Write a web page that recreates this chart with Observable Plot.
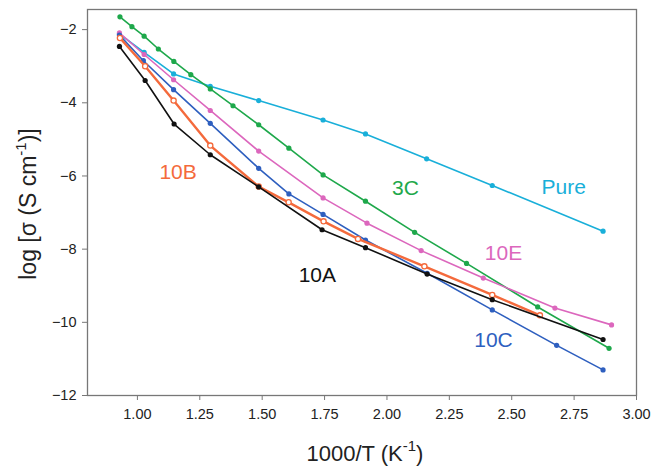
<!DOCTYPE html>
<html><head><meta charset="utf-8">
<script src="https://cdn.jsdelivr.net/npm/d3@7"></script>
<script src="https://cdn.jsdelivr.net/npm/@observablehq/plot@0.6"></script>
<style>
body{margin:0;background:#fff;}
#chart svg{font-family:"Liberation Sans",Arial,Helvetica,sans-serif;overflow:visible;}
</style>
</head><body><div id="chart"></div>
<script>
// Series: 1000/T (x) and log sigma (y)
const seriesNames = ["Pure","3C","10E","10C","10B","10A"];
const seriesColors = ["#19afd9","#1ea84b","#dc67bd","#2e5fbf","#f46a3c","#111111"];

const pureX = [0.928,1.027,1.145,1.292,1.486,1.744,1.914,2.159,2.422,2.866];
const pureY = [-2.12,-2.62,-3.21,-3.55,-3.94,-4.47,-4.85,-5.53,-6.26,-7.51];

const c3X = [0.93,0.978,1.027,1.084,1.146,1.214,1.292,1.383,1.486,1.607,1.744,1.914,2.111,2.319,2.604,2.890];
const c3Y = [-1.65,-1.92,-2.18,-2.53,-2.87,-3.23,-3.62,-4.08,-4.60,-5.24,-5.97,-6.69,-7.54,-8.39,-9.58,-10.71];

const e10X = [0.928,1.027,1.145,1.292,1.486,1.744,1.920,2.137,2.386,2.673,2.900];
const e10Y = [-2.09,-2.68,-3.37,-4.21,-5.32,-6.60,-7.29,-8.04,-8.79,-9.61,-10.07];

const c10X = [0.928,1.024,1.145,1.292,1.486,1.607,1.744,1.914,2.161,2.422,2.680,2.866];
const c10Y = [-2.15,-2.85,-3.64,-4.56,-5.79,-6.49,-7.05,-7.75,-8.66,-9.66,-10.63,-11.30];

const b10X = [0.93,1.031,1.145,1.292,1.486,1.606,1.746,1.884,2.150,2.422,2.613];
const b10Y = [-2.23,-3.00,-3.94,-5.17,-6.29,-6.72,-7.24,-7.72,-8.47,-9.25,-9.81];

const a10X = [0.928,1.031,1.147,1.292,1.486,1.740,1.914,2.161,2.422,2.866];
const a10Y = [-2.46,-3.39,-4.58,-5.42,-6.30,-7.47,-7.96,-8.68,-9.38,-10.47];

// Label positions (data coordinates)
const labelText = ["Pure","3C","10E","10C","10B","10A"];
const labelX = [2.708,2.074,2.467,2.427,1.163,1.721];
const labelY = [-6.32,-6.34,-8.12,-10.50,-5.91,-8.72];

const xTicks = [1.00,1.25,1.50,1.75,2.00,2.25,2.50,2.75,3.00];
const yTicks = [-12,-10,-8,-6,-4,-2];

const allX = [pureX,c3X,e10X,c10X,b10X,a10X];
const allY = [pureY,c3Y,e10Y,c10Y,b10Y,a10Y];
const rows = [];
seriesNames.forEach((s,i)=>allX[i].forEach((x,j)=>rows.push({series:s,x,y:allY[i][j]})));
const labels = labelText.map((t,i)=>({series:t,x:labelX[i],y:labelY[i]}));

const color = s => seriesColors[seriesNames.indexOf(s)];

const marks = [];
seriesNames.forEach((s)=>{
  const d = rows.filter(r=>r.series===s);
  const c = color(s);
  marks.push(Plot.line(d,{x:"x",y:"y",stroke:c,strokeWidth: s==="10B"?2.4:1.6}));
  if (s==="10B") marks.push(Plot.dot(d,{x:"x",y:"y",r:2.6,fill:"white",stroke:c,strokeWidth:1.3}));
  else marks.push(Plot.dot(d,{x:"x",y:"y",r:2.6,fill:c,stroke:"none"}));
});

const chart = Plot.plot({
  width:651, height:466,
  marginLeft:87, marginRight:15, marginTop:9, marginBottom:71,
  style:{background:"#fff", color:"#222"},
  x:{domain:[0.8,3.0]},
  y:{domain:[-12,-1.45]},
  marks:[
    ...marks,
    Plot.text(labels,{x:"x",y:"y",text:"series",fill:d=>color(d.series),fontSize:21,textAnchor:"middle"}),
    Plot.frame({stroke:"#777",strokeWidth:1.3}),
    Plot.axisX({ticks:xTicks,tickFormat:d=>d.toFixed(2),tickSize:5,tickPadding:8,fontSize:14.5,stroke:"#777",label:null,color:"#222"}),
    Plot.axisY({ticks:yTicks,tickSize:5,tickPadding:6,fontSize:14.5,stroke:"#777",label:null,color:"#222"})
  ]
});
document.getElementById("chart").appendChild(chart);

const svg = d3.select(chart);
// x title
const xt = svg.append("text").attr("x",365).attr("y",461).attr("text-anchor","middle")
  .attr("font-size",22).attr("fill","#222");
xt.append("tspan").text("1000/T (K");
xt.append("tspan").attr("font-size",15).attr("dy",-10).text("-1");
xt.append("tspan").attr("dy",10).text(")");
// y title
const yt = svg.append("text").attr("transform","translate(36,204) rotate(-90)").attr("text-anchor","middle")
  .attr("font-size",23).attr("fill","#222");
yt.append("tspan").text("log [σ (S cm");
yt.append("tspan").attr("font-size",15).attr("dy",-10).text("-1");
yt.append("tspan").attr("dy",10).text(")]");
</script>
</body></html>
